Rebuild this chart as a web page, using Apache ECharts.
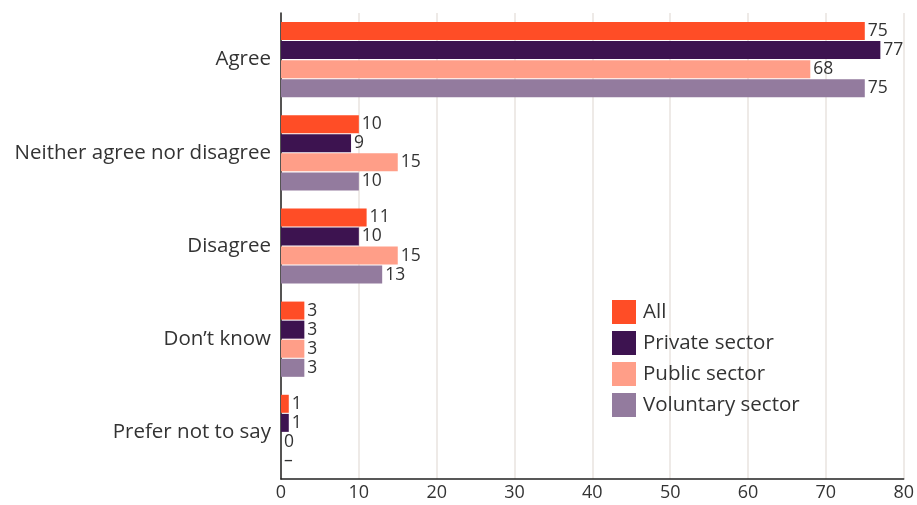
<!DOCTYPE html>
<html><head><meta charset="utf-8">
<script src="https://cdn.jsdelivr.net/npm/echarts@6/dist/echarts.min.js"></script>
<style>html,body{margin:0;padding:0;background:#fff}#c{width:917px;height:505px}</style>
</head><body><div id="c"></div>
<script>
var categories = ["Agree", "Neither agree nor disagree", "Disagree", "Don\u2019t know", "Prefer not to say"];
var seriesNames = ["All", "Private sector", "Public sector", "Voluntary sector"];
var allValues = [75, 10, 11, 3, 1];
var privateValues = [77, 9, 10, 3, 1];
var publicValues = [68, 15, 15, 3, 0];
var voluntaryValues = [75, 10, 13, 3, null];
var colors = ["#FF4D26", "#3D1350", "#FF9E88", "#937B9E"];
var xTicks = [0, 10, 20, 30, 40, 50, 60, 70, 80];

var valueSets = [allValues, privateValues, publicValues, voluntaryValues];
var font = "'Open Sans', sans-serif";
var chart = echarts.init(document.getElementById('c'));
chart.setOption({
  animation: false,
  textStyle: {fontFamily: font},
  grid: {left: 281, right: 12, top: 13, bottom: 26, containLabel: false},
  legend: {
    orient: 'vertical', left: 607, top: 295, itemWidth: 24, itemHeight: 24, itemGap: 7,
    icon: 'rect', data: seriesNames,
    textStyle: {fontSize: 20.5, color: '#333', fontFamily: font, padding: [0, 0, 0, 2]}
  },
  xAxis: {
    type: 'value', min: 0, max: 80, interval: 10,
    axisLine: {show: true, lineStyle: {color: '#222', width: 1.5}},
    axisTick: {show: false},
    splitLine: {show: true, lineStyle: {color: '#e8e3df', width: 1.5}},
    axisLabel: {fontSize: 18, color: '#333', margin: 5,
      formatter: function (v) { return xTicks.indexOf(v) >= 0 ? String(v) : ''; }}
  },
  yAxis: {
    type: 'category', data: categories, inverse: true,
    axisLine: {show: true, lineStyle: {color: '#222', width: 1.5}},
    axisTick: {show: false},
    axisLabel: {fontSize: 20.5, color: '#333', margin: 10}
  },
  series: seriesNames.map(function (n, i) {
    return {
      name: n, type: 'bar', barWidth: 18, barGap: '6%', barCategoryGap: '20%',
      itemStyle: {color: colors[i]},
      data: valueSets[i].map(function (v) { return v === null ? 0 : v; }),
      label: {
        show: true, position: 'right', distance: 3, fontSize: 17.5, color: '#333',
        formatter: function (p) { return valueSets[i][p.dataIndex] === null ? '\u2013' : String(p.value); }
      }
    };
  })
});
</script></body></html>
